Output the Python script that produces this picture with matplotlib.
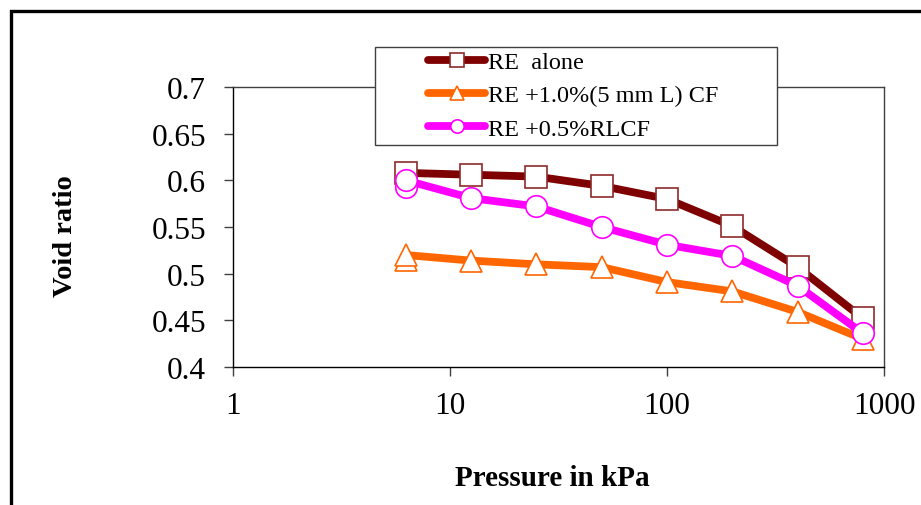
import matplotlib
matplotlib.use("Agg")
import matplotlib.pyplot as plt
from matplotlib.patches import Rectangle
from matplotlib.ticker import FixedLocator, FixedFormatter, NullLocator

plt.rcParams['font.family'] = ['Liberation Serif', 'DejaVu Serif']

# ---- data ----
pressure_alone = [6.25, 12.5, 25, 50, 100, 200, 400, 800]
void_alone = [0.608, 0.606, 0.604, 0.594, 0.580, 0.551, 0.507, 0.452]

pressure_cf = [6.25, 6.25, 12.5, 25, 50, 100, 200, 400, 800]
void_cf = [0.515, 0.520, 0.514, 0.510, 0.507, 0.491, 0.481, 0.459, 0.430]

pressure_rlcf = [6.25, 6.25, 12.5, 25, 50, 100, 200, 400, 800]
void_rlcf = [0.593, 0.600, 0.581, 0.572, 0.550, 0.531, 0.519, 0.487, 0.436]

series_labels = ["RE  alone", "RE +1.0%(5 mm L) CF", "RE +0.5%RLCF"]
x_ticks = [1, 10, 100, 1000]
x_tick_labels = ["1", "10", "100", "1000"]
y_ticks = [0.4, 0.45, 0.5, 0.55, 0.6, 0.65, 0.7]
y_tick_labels = ["0.4", "0.45", "0.5", "0.55", "0.6", "0.65", "0.7"]

W, H = 921, 506
fig = plt.figure(figsize=(W / 100, H / 100), dpi=100)
ax = fig.add_axes([233 / W, 1 - 368 / H, 651 / W, 280 / H])

lw = 5.6
ms = 15.5
ax.plot(pressure_alone, void_alone, color='#7F0000', lw=lw, marker='s', ms=ms,
        mfc='white', mec='#8E2A2A', mew=1.2, label=series_labels[0], solid_capstyle='round')
ax.plot(pressure_cf, void_cf, color='#FF6600', lw=lw, marker='^', ms=ms,
        mfc='white', mec='#FF6600', mew=1.2, label=series_labels[1], solid_capstyle='round')
ax.plot(pressure_rlcf, void_rlcf, color='#FF00FF', lw=lw, marker='o', ms=ms,
        mfc='white', mec='#FF00FF', mew=1.2, label=series_labels[2], solid_capstyle='round')

ax.set_xscale('log')
ax.set_xlim(1, 1000)
ax.set_ylim(0.4, 0.7)
ax.xaxis.set_major_locator(FixedLocator(x_ticks))
ax.xaxis.set_major_formatter(FixedFormatter(x_tick_labels))
ax.xaxis.set_minor_locator(NullLocator())
ax.yaxis.set_major_locator(FixedLocator(y_ticks))
ax.yaxis.set_major_formatter(FixedFormatter(y_tick_labels))

for s in ax.spines.values():
    s.set_color('#404040')
    s.set_linewidth(1.0)
ax.spines['left'].set_color('black')
ax.spines['bottom'].set_color('black')
ax.tick_params(axis='both', direction='out', length=6.5, width=1.0, color='#404040',
               labelsize=22.5)
ax.tick_params(axis='y', pad=13)
ax.tick_params(axis='x', pad=11)

ax.set_xlabel("Pressure in kPa", fontsize=21, fontweight='bold')
ax.xaxis.set_label_coords((552 - 233) / 651, (368 - 479) / 280)
ax.xaxis.label.set_va('center')
ax.set_ylabel("Void ratio", fontsize=20.5, fontweight='bold')
ax.yaxis.set_label_coords((66 - 233) / 651, (368 - 236.5) / 280)
ax.yaxis.label.set_va('center')

# legend frame
fig.add_artist(Rectangle((375 / W, 1 - 146 / H), (777 - 375) / W, (146 - 48) / H,
                         transform=fig.transFigure, facecolor='white',
                         edgecolor='#404040', lw=1.0, zorder=5))
leg = fig.legend(loc='upper left', bbox_to_anchor=(428 / W, 1 - 52 / H),
                 frameon=False, fontsize=17.5, handlelength=2.35, handletextpad=0.1,
                 borderpad=0, borderaxespad=0, labelspacing=0.47, markerscale=0.62)
leg.set_zorder(6)

# outer frame
fig.add_artist(Rectangle((10.5 / W, -0.1), 1.2, 1.1 - 11.5 / H,
                         transform=fig.transFigure, facecolor='none',
                         edgecolor='black', lw=2.4, zorder=10, clip_on=False))

fig.savefig("out.png", dpi=100)
